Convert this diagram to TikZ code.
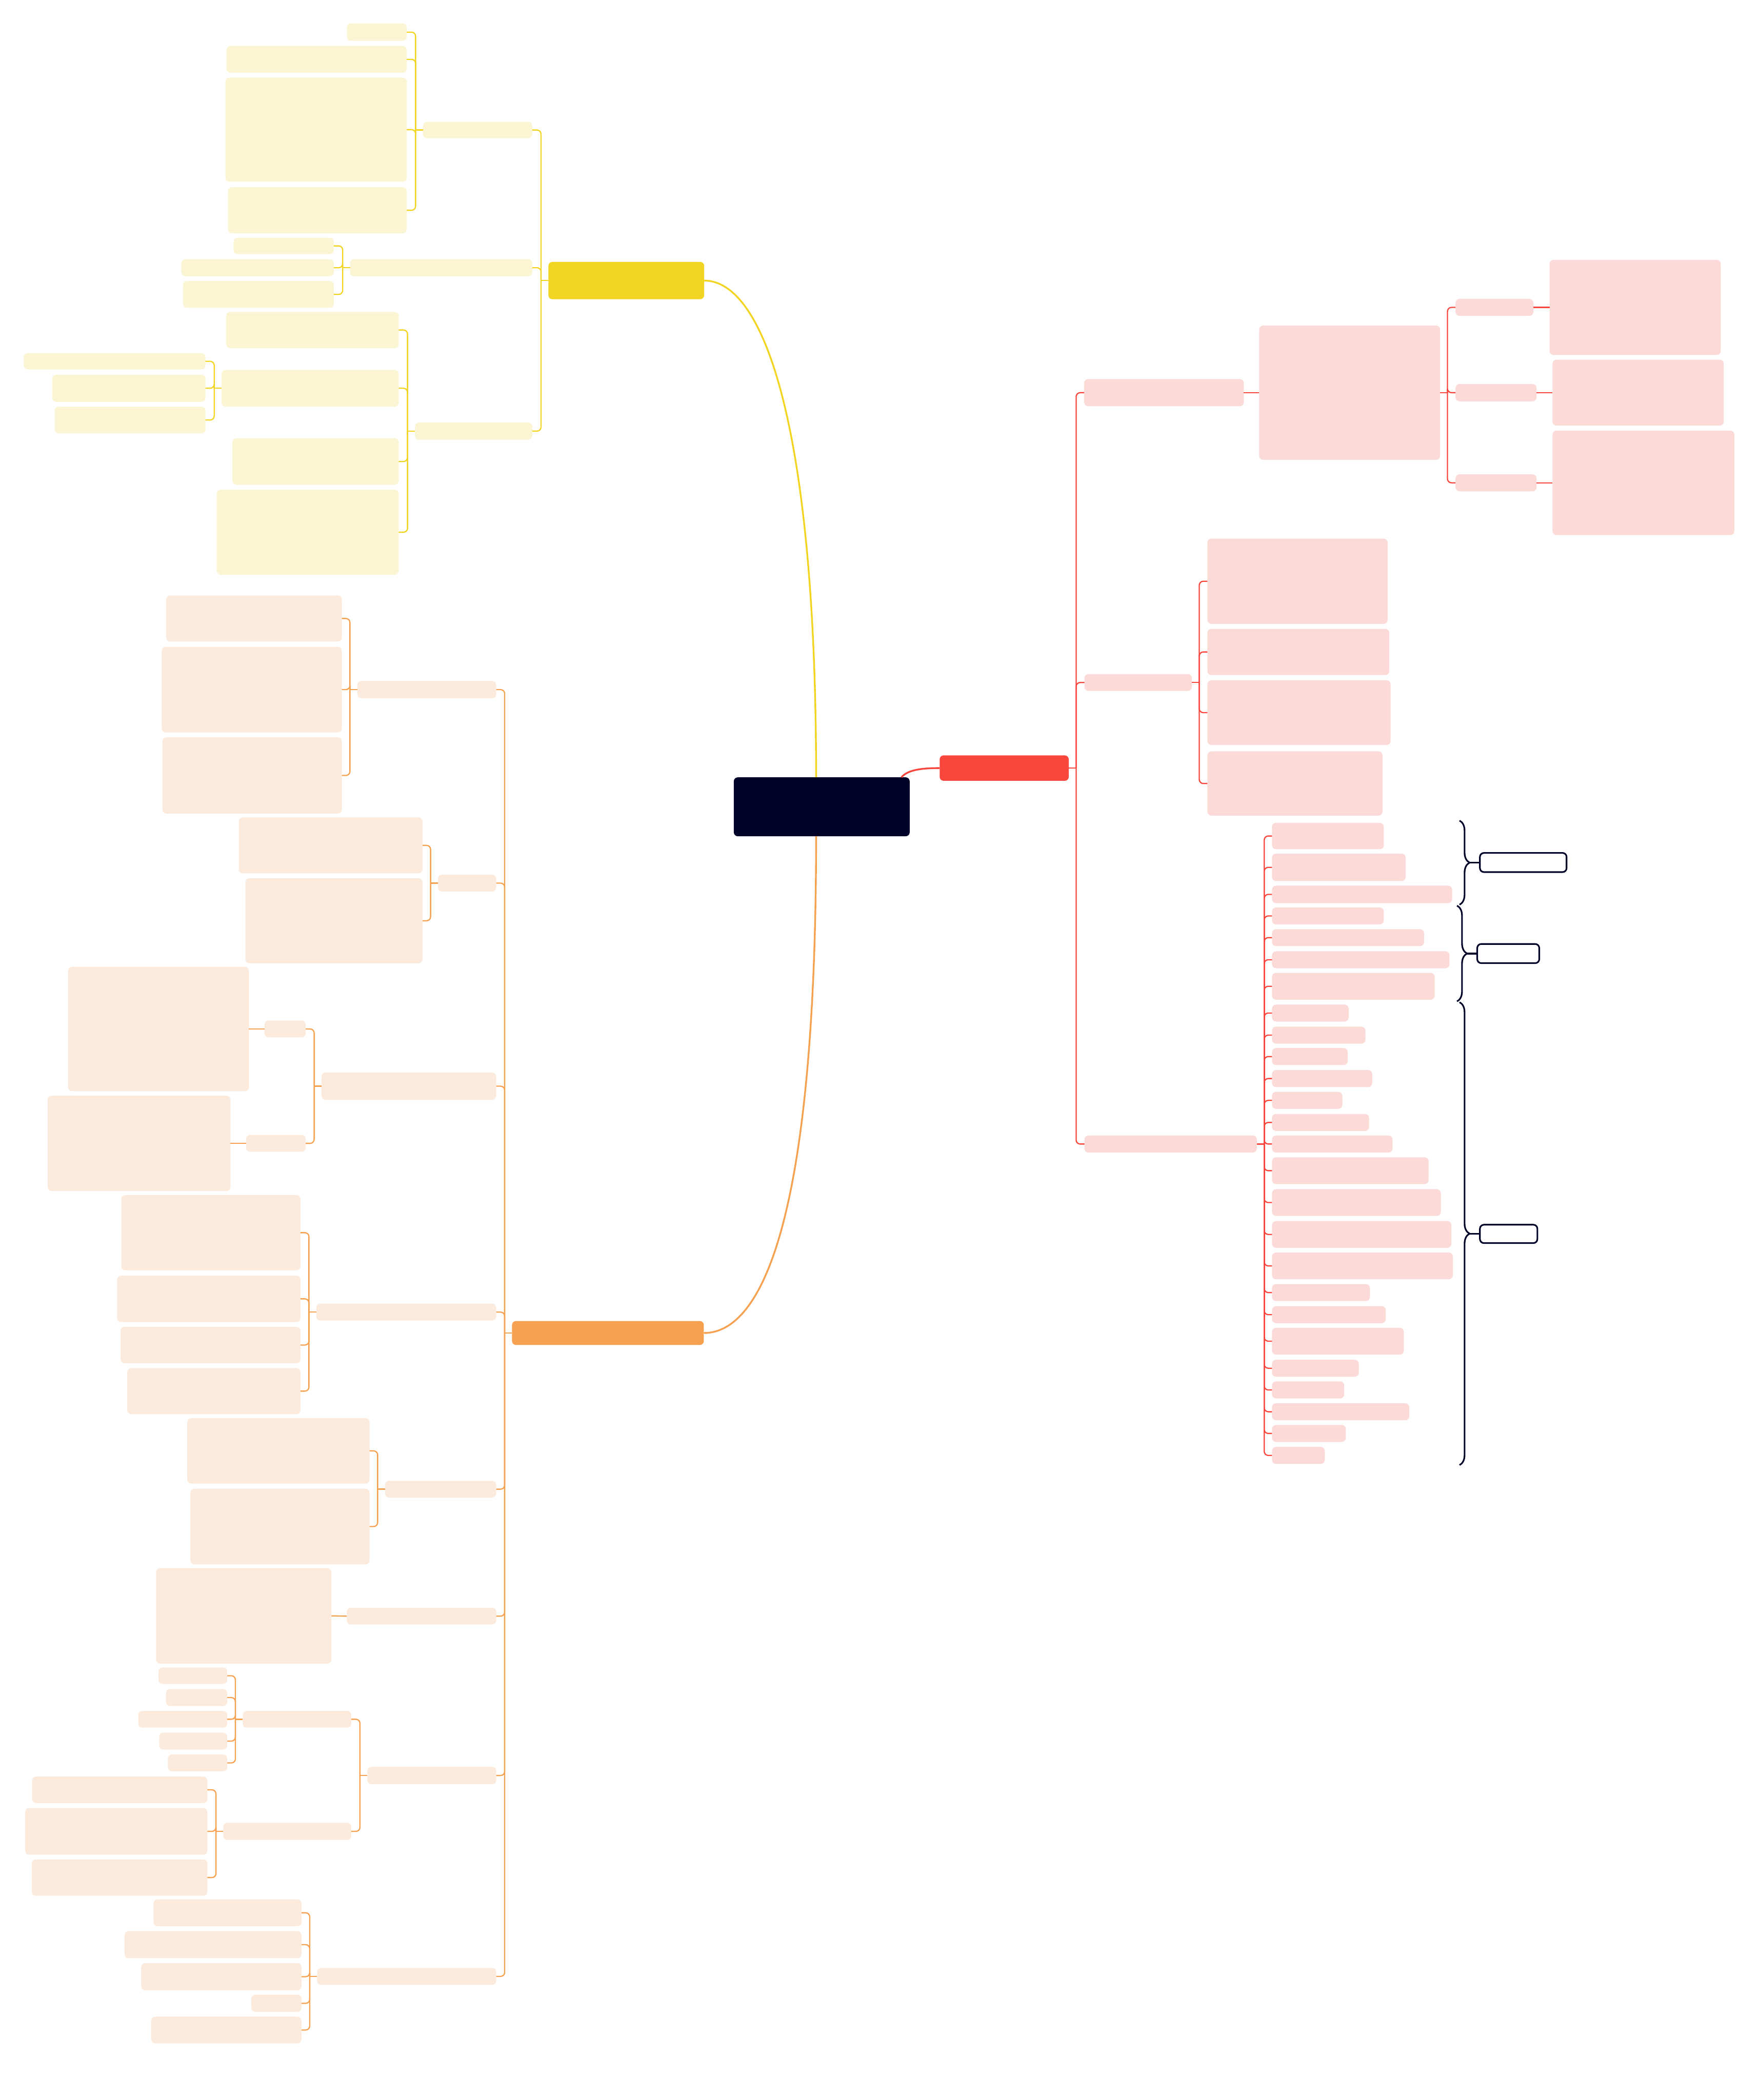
\documentclass[tikz,border=0pt]{standalone}
\usetikzlibrary{decorations.pathreplacing}
\definecolor{navy}{RGB}{0,2,40}
\definecolor{redmain}{RGB}{249,71,62}
\definecolor{redsoft}{RGB}{252,218,216}
\definecolor{yelmain}{RGB}{242,212,34}
\definecolor{yelsoft}{RGB}{251,245,211}
\definecolor{ormain}{RGB}{246,161,80}
\definecolor{orsoft}{RGB}{252,235,220}
\tikzset{
  wh/.style 2 args={minimum width=#1*0.5mm, minimum height=#2*0.5mm},
  leaf/.style={rounded corners=1.5mm, inner sep=0pt, outer sep=0pt},
  rleaf/.style={leaf, fill=redsoft, anchor=west},
  yleaf/.style={leaf, fill=yelsoft, anchor=east},
  oleaf/.style={leaf, fill=orsoft, anchor=east},
  rline/.style={draw=redmain, line width=0.45mm, rounded corners=1.5mm},
  yline/.style={draw=yelmain, line width=0.45mm, rounded corners=1.5mm},
  oline/.style={draw=ormain, line width=0.45mm, rounded corners=1.5mm},
  tag/.style={leaf, draw=navy, line width=0.6mm, fill=white, anchor=west},
  curly/.style={draw=navy, line width=0.6mm, decorate, decoration={brace, amplitude=3.75mm}},
}
\begin{document}
\begin{tikzpicture}[x=0.5mm, y=-0.5mm]
\useasboundingbox (0,0) rectangle (1313,1568);

% centre and main branches
\node[leaf, fill=navy, wh={131.3}{44}] (cen) at (613.4,602.4) {};
\node[leaf, fill=redmain, wh={96.4}{19}] (rd) at (749.6,573.5) {};
\node[leaf, fill=yelmain, wh={116.3}{27.9}] (y0) at (467.5,209.5) {};
\node[leaf, fill=ormain, wh={143.2}{17.9}] (o0) at (453.8,995.3) {};
\draw[yelmain, line width=0.65mm] (y0.east) .. controls +(45,0) and +(0,-260) .. ([xshift=-2.1mm]cen.north);
\draw[ormain, line width=0.65mm] (o0.east) .. controls +(45,0) and +(0,280) .. ([xshift=-2.1mm]cen.south);
\draw[redmain, line width=0.65mm] ([xshift=-3.1mm]cen.north east) .. controls +(5,-6) and +(-12,0) .. (rd.west);

% red side
\node[rleaf, wh={119.2}{20.3}] (r1) at (809.3,293.2) {};
\node[rleaf, wh={135.1}{100.3}] (r1d) at (939.9,293.2) {};
\node[rleaf, wh={58.1}{12.7}] (r1a) at (1086.5,229.5) {};
\node[rleaf, wh={60.5}{12.9}] (r1b) at (1086.5,293.2) {};
\node[rleaf, wh={60.5}{12.7}] (r1c) at (1086.5,360.5) {};
\node[rleaf, wh={127.8}{71}] (r1at) at (1156.7,229.5) {};
\node[rleaf, wh={127.8}{49.2}] (r1bt) at (1158.9,293.2) {};
\node[rleaf, wh={135.7}{78}] (r1ct) at (1158.9,360.5) {};
\node[rleaf, wh={80.2}{12.6}] (r2) at (809.5,509.6) {};
\node[rleaf, wh={134.5}{63.7}] (r2a) at (901.3,434) {};
\node[rleaf, wh={135.7}{34.5}] (r2b) at (901.3,486.8) {};
\node[rleaf, wh={136.7}{48.4}] (r2c) at (901.3,532.1) {};
\node[rleaf, wh={130.7}{48}] (r2d) at (901.3,585) {};
\node[rleaf, wh={128.7}{12.7}] (r3) at (809.5,854.2) {};
\node[rleaf, wh={83.5}{19.7}] (r3a) at (949.5,624.2) {};
\node[rleaf, wh={99.8}{20.4}] (r3b) at (949.5,647.6) {};
\node[rleaf, wh={134.5}{13.1}] (r3c) at (949.5,667.8) {};
\node[rleaf, wh={83.5}{12.7}] (r3d) at (949.5,683.9) {};
\node[rleaf, wh={113.5}{12.7}] (r3e) at (949.5,700.1) {};
\node[rleaf, wh={132.5}{12.7}] (r3f) at (949.5,716.6) {};
\node[rleaf, wh={121.5}{20}] (r3g) at (949.5,736.4) {};
\node[rleaf, wh={57.2}{12.7}] (r3h) at (949.5,756.4) {};
\node[rleaf, wh={69.8}{12.7}] (r3i) at (949.5,772.9) {};
\node[rleaf, wh={56.5}{12.7}] (r3j) at (949.5,788.9) {};
\node[rleaf, wh={74.8}{12.7}] (r3k) at (949.5,805.3) {};
\node[rleaf, wh={52.5}{12.7}] (r3l) at (949.5,821.6) {};
\node[rleaf, wh={72.5}{12.7}] (r3m) at (949.5,838.1) {};
\node[rleaf, wh={90}{12.7}] (r3n) at (949.5,854.2) {};
\node[rleaf, wh={116.9}{20}] (r3o) at (949.5,874.1) {};
\node[rleaf, wh={126}{20}] (r3p) at (949.5,897.9) {};
\node[rleaf, wh={133.9}{20}] (r3q) at (949.5,921.7) {};
\node[rleaf, wh={135}{20}] (r3r) at (949.5,945.2) {};
\node[rleaf, wh={73.1}{12.7}] (r3s) at (949.5,965.1) {};
\node[rleaf, wh={84.9}{12.7}] (r3t) at (949.5,981.6) {};
\node[rleaf, wh={98.4}{20}] (r3u) at (949.5,1001.4) {};
\node[rleaf, wh={64.8}{12.7}] (r3v) at (949.5,1021.6) {};
\node[rleaf, wh={53.9}{12.7}] (r3w) at (949.5,1037.8) {};
\node[rleaf, wh={102.5}{12.7}] (r3x) at (949.5,1054.1) {};
\node[rleaf, wh={55.1}{12.7}] (r3y) at (949.5,1070.3) {};
\node[rleaf, wh={39.4}{12.7}] (r3z) at (949.5,1086.7) {};

\draw[rline] (rd.east) -- ++(5.5,0);
\draw[rline] ([xshift=2.75mm]rd.east) |- (r1.west);
\draw[rline] ([xshift=2.75mm]rd.east) |- (r2.west);
\draw[rline] ([xshift=2.75mm]rd.east) |- (r3.west);
\draw[rline] (r1.east) -- (r1d.west);
\draw[rline] (r1d.east) -- ++(5.5,0);
\draw[rline] ([xshift=2.75mm]r1d.east) |- (r1a.west);
\draw[rline] ([xshift=2.75mm]r1d.east) |- (r1b.west);
\draw[rline] ([xshift=2.75mm]r1d.east) |- (r1c.west);
\draw[rline] (r1a.east) -- (r1at.west);
\draw[rline] (r1b.east) -- (r1bt.west);
\draw[rline] (r1c.east) -- (r1ct.west);
\draw[rline] (r2.east) -- ++(5.5,0);
\draw[rline] ([xshift=2.75mm]r2.east) |- (r2a.west);
\draw[rline] ([xshift=2.75mm]r2.east) |- (r2b.west);
\draw[rline] ([xshift=2.75mm]r2.east) |- (r2c.west);
\draw[rline] ([xshift=2.75mm]r2.east) |- (r2d.west);
\draw[rline] (r3.east) -- ++(5.5,0);
\draw[rline] ([xshift=2.75mm]r3.east) |- (r3a.west);
\draw[rline] ([xshift=2.75mm]r3.east) |- (r3b.west);
\draw[rline] ([xshift=2.75mm]r3.east) |- (r3c.west);
\draw[rline] ([xshift=2.75mm]r3.east) |- (r3d.west);
\draw[rline] ([xshift=2.75mm]r3.east) |- (r3e.west);
\draw[rline] ([xshift=2.75mm]r3.east) |- (r3f.west);
\draw[rline] ([xshift=2.75mm]r3.east) |- (r3g.west);
\draw[rline] ([xshift=2.75mm]r3.east) |- (r3h.west);
\draw[rline] ([xshift=2.75mm]r3.east) |- (r3i.west);
\draw[rline] ([xshift=2.75mm]r3.east) |- (r3j.west);
\draw[rline] ([xshift=2.75mm]r3.east) |- (r3k.west);
\draw[rline] ([xshift=2.75mm]r3.east) |- (r3l.west);
\draw[rline] ([xshift=2.75mm]r3.east) |- (r3m.west);
\draw[rline] ([xshift=2.75mm]r3.east) |- (r3n.west);
\draw[rline] ([xshift=2.75mm]r3.east) |- (r3o.west);
\draw[rline] ([xshift=2.75mm]r3.east) |- (r3p.west);
\draw[rline] ([xshift=2.75mm]r3.east) |- (r3q.west);
\draw[rline] ([xshift=2.75mm]r3.east) |- (r3r.west);
\draw[rline] ([xshift=2.75mm]r3.east) |- (r3s.west);
\draw[rline] ([xshift=2.75mm]r3.east) |- (r3t.west);
\draw[rline] ([xshift=2.75mm]r3.east) |- (r3u.west);
\draw[rline] ([xshift=2.75mm]r3.east) |- (r3v.west);
\draw[rline] ([xshift=2.75mm]r3.east) |- (r3w.west);
\draw[rline] ([xshift=2.75mm]r3.east) |- (r3x.west);
\draw[rline] ([xshift=2.75mm]r3.east) |- (r3y.west);
\draw[rline] ([xshift=2.75mm]r3.east) |- (r3z.west);

% summary braces
\coordinate (b1s) at (1089.5,612.7);
\coordinate (b1e) at (1089.5,675.5);
\coordinate (b2s) at (1087.6,676.2);
\coordinate (b2e) at (1087.6,747.7);
\coordinate (b3s) at (1089.5,748.3);
\coordinate (b3e) at (1089.5,1093.9);
\draw[curly] (b1s) -- (b1e);
\draw[curly] (b2s) -- (b2e);
\draw[curly] (b3s) -- (b3e);
\node[tag, wh={64.7}{14.3}] (g1) at (1104.7,644) {};
\node[tag, wh={46.3}{14.3}] (g2) at (1102.7,712) {};
\node[tag, wh={42.9}{13.7}] (g3) at (1104.7,921.3) {};
\draw[navy, line width=0.6mm] (g1.west) -- ++(-7.6,0);
\draw[navy, line width=0.6mm] (g2.west) -- ++(-7.6,0);
\draw[navy, line width=0.6mm] (g3.west) -- ++(-7.6,0);

% yellow side
\node[yleaf, wh={81.6}{12.2}] (y1) at (397.3,97.1) {};
\node[yleaf, wh={136}{12.7}] (y2) at (397.3,199.9) {};
\node[yleaf, wh={87.6}{12.8}] (y3) at (397.3,321.9) {};
\node[yleaf, wh={44.7}{13}] (y1a) at (303.6,24) {};
\node[yleaf, wh={134.5}{20}] (y1b) at (303.6,44.3) {};
\node[yleaf, wh={135.3}{77.8}] (y1c) at (303.6,96.8) {};
\node[yleaf, wh={133.5}{34.4}] (y1d) at (303.6,157) {};
\node[yleaf, wh={74.9}{12.2}] (y2a) at (249.2,183.6) {};
\node[yleaf, wh={113.9}{12.7}] (y2b) at (249.2,199.9) {};
\node[yleaf, wh={112.6}{20}] (y2c) at (249.2,219.8) {};
\node[yleaf, wh={128.8}{27.1}] (y3a) at (297.6,246.4) {};
\node[yleaf, wh={132.2}{27.4}] (y3b) at (297.6,289.9) {};
\node[yleaf, wh={124.1}{34.7}] (y3c) at (297.6,344.6) {};
\node[yleaf, wh={135.8}{63.4}] (y3d) at (297.6,397.4) {};
\node[yleaf, wh={135.6}{12.2}] (y3ba) at (153.4,269.8) {};
\node[yleaf, wh={114.4}{20.3}] (y3bb) at (153.4,289.9) {};
\node[yleaf, wh={112.6}{20}] (y3bc) at (153.4,313.6) {};

\draw[yline] (y0.west) -- ++(-5.5,0);
\draw[yline] ([xshift=-2.75mm]y0.west) |- (y1.east);
\draw[yline] ([xshift=-2.75mm]y0.west) |- (y2.east);
\draw[yline] ([xshift=-2.75mm]y0.west) |- (y3.east);
\draw[yline] (y1.west) -- ++(-5.5,0);
\draw[yline] ([xshift=-2.75mm]y1.west) |- (y1a.east);
\draw[yline] ([xshift=-2.75mm]y1.west) |- (y1b.east);
\draw[yline] ([xshift=-2.75mm]y1.west) |- (y1c.east);
\draw[yline] ([xshift=-2.75mm]y1.west) |- (y1d.east);
\draw[yline] (y2.west) -- ++(-5.5,0);
\draw[yline] ([xshift=-2.75mm]y2.west) |- (y2a.east);
\draw[yline] ([xshift=-2.75mm]y2.west) |- (y2b.east);
\draw[yline] ([xshift=-2.75mm]y2.west) |- (y2c.east);
\draw[yline] (y3.west) -- ++(-5.5,0);
\draw[yline] ([xshift=-2.75mm]y3.west) |- (y3a.east);
\draw[yline] ([xshift=-2.75mm]y3.west) |- (y3b.east);
\draw[yline] ([xshift=-2.75mm]y3.west) |- (y3c.east);
\draw[yline] ([xshift=-2.75mm]y3.west) |- (y3d.east);
\draw[yline] (y3b.west) -- ++(-5.5,0);
\draw[yline] ([xshift=-2.75mm]y3b.west) |- (y3ba.east);
\draw[yline] ([xshift=-2.75mm]y3b.west) |- (y3bb.east);
\draw[yline] ([xshift=-2.75mm]y3b.west) |- (y3bc.east);

% orange side
\node[oleaf, wh={103.7}{12.9}] (o1) at (370.4,514.9) {};
\node[oleaf, wh={43.5}{12.6}] (o2) at (370.4,659.4) {};
\node[oleaf, wh={130.4}{20.3}] (o3) at (370.4,811) {};
\node[oleaf, wh={134.3}{12.6}] (o4) at (370.4,979.7) {};
\node[oleaf, wh={83}{12.5}] (o5) at (370.4,1111.9) {};
\node[oleaf, wh={111.5}{12.6}] (o6) at (370.4,1206.7) {};
\node[oleaf, wh={96.2}{13}] (o7) at (370.4,1325.7) {};
\node[oleaf, wh={133.7}{12.6}] (o8) at (370.4,1475.7) {};
\node[oleaf, wh={131.1}{34.5}] (o1a) at (255.2,461.8) {};
\node[oleaf, wh={134.5}{63.9}] (o1b) at (255.2,514.9) {};
\node[oleaf, wh={134}{56.9}] (o1c) at (255.2,579) {};
\node[oleaf, wh={137.2}{41.8}] (o2a) at (315.4,631.2) {};
\node[oleaf, wh={132.2}{63.5}] (o2b) at (315.4,687.5) {};
\node[oleaf, wh={30.8}{12.6}] (o3a) at (228.2,768.3) {};
\node[oleaf, wh={135}{92.9}] (o3at) at (185.8,768.3) {};
\node[oleaf, wh={44.5}{12.6}] (o3b) at (228.2,853.7) {};
\node[oleaf, wh={136.4}{71.2}] (o3bt) at (172,853.7) {};
\node[oleaf, wh={133.7}{56.2}] (o4a) at (224.3,920.4) {};
\node[oleaf, wh={136.9}{34.7}] (o4b) at (224.3,969.8) {};
\node[oleaf, wh={134.3}{27.2}] (o4c) at (224.3,1004.3) {};
\node[oleaf, wh={129.3}{34.4}] (o4d) at (224.3,1038.7) {};
\node[oleaf, wh={136.1}{48.8}] (o5a) at (275.9,1083.3) {};
\node[oleaf, wh={133.8}{56.5}] (o5b) at (275.9,1139.8) {};
\node[oleaf, wh={130.9}{71.3}] (o6a) at (247.4,1206.5) {};
\node[oleaf, wh={81}{12.5}] (o7a) at (262.2,1283.7) {};
\node[oleaf, wh={95.5}{12.8}] (o7b) at (262.2,1367.4) {};
\node[oleaf, wh={51.3}{12.3}] (o7a1) at (169.6,1251.2) {};
\node[oleaf, wh={45.7}{12.7}] (o7a2) at (169.6,1267.5) {};
\node[oleaf, wh={66.4}{12.5}] (o7a3) at (169.6,1283.7) {};
\node[oleaf, wh={50.8}{12.6}] (o7a4) at (169.6,1300) {};
\node[oleaf, wh={44.3}{12.6}] (o7a5) at (169.6,1316.3) {};
\node[oleaf, wh={130.8}{19.8}] (o7b1) at (154.8,1336.4) {};
\node[oleaf, wh={136}{34.8}] (o7b2) at (154.8,1367.4) {};
\node[oleaf, wh={131}{27.1}] (o7b3) at (154.8,1401.9) {};
\node[oleaf, wh={110.4}{20.1}] (o8a) at (225,1428.2) {};
\node[oleaf, wh={132}{20.2}] (o8b) at (225,1452) {};
\node[oleaf, wh={119.6}{20.4}] (o8c) at (225,1475.9) {};
\node[oleaf, wh={37.4}{12.8}] (o8d) at (225,1495.8) {};
\node[oleaf, wh={112.1}{20}] (o8e) at (225,1515.7) {};

\draw[oline] (o0.west) -- ++(-5.5,0);
\draw[oline] ([xshift=-2.75mm]o0.west) |- (o1.east);
\draw[oline] ([xshift=-2.75mm]o0.west) |- (o2.east);
\draw[oline] ([xshift=-2.75mm]o0.west) |- (o3.east);
\draw[oline] ([xshift=-2.75mm]o0.west) |- (o4.east);
\draw[oline] ([xshift=-2.75mm]o0.west) |- (o5.east);
\draw[oline] ([xshift=-2.75mm]o0.west) |- (o6.east);
\draw[oline] ([xshift=-2.75mm]o0.west) |- (o7.east);
\draw[oline] ([xshift=-2.75mm]o0.west) |- (o8.east);
\draw[oline] (o1.west) -- ++(-5.5,0);
\draw[oline] ([xshift=-2.75mm]o1.west) |- (o1a.east);
\draw[oline] ([xshift=-2.75mm]o1.west) |- (o1b.east);
\draw[oline] ([xshift=-2.75mm]o1.west) |- (o1c.east);
\draw[oline] (o2.west) -- ++(-5.5,0);
\draw[oline] ([xshift=-2.75mm]o2.west) |- (o2a.east);
\draw[oline] ([xshift=-2.75mm]o2.west) |- (o2b.east);
\draw[oline] (o3.west) -- ++(-5.5,0);
\draw[oline] ([xshift=-2.75mm]o3.west) |- (o3a.east);
\draw[oline] ([xshift=-2.75mm]o3.west) |- (o3b.east);
\draw[oline] (o3a.west) -- (o3at.east);
\draw[oline] (o3b.west) -- (o3bt.east);
\draw[oline] (o4.west) -- ++(-5.5,0);
\draw[oline] ([xshift=-2.75mm]o4.west) |- (o4a.east);
\draw[oline] ([xshift=-2.75mm]o4.west) |- (o4b.east);
\draw[oline] ([xshift=-2.75mm]o4.west) |- (o4c.east);
\draw[oline] ([xshift=-2.75mm]o4.west) |- (o4d.east);
\draw[oline] (o5.west) -- ++(-5.5,0);
\draw[oline] ([xshift=-2.75mm]o5.west) |- (o5a.east);
\draw[oline] ([xshift=-2.75mm]o5.west) |- (o5b.east);
\draw[oline] (o6.west) -- (o6a.east);
\draw[oline] (o7.west) -- ++(-5.5,0);
\draw[oline] ([xshift=-2.75mm]o7.west) |- (o7a.east);
\draw[oline] ([xshift=-2.75mm]o7.west) |- (o7b.east);
\draw[oline] (o7a.west) -- ++(-5.5,0);
\draw[oline] ([xshift=-2.75mm]o7a.west) |- (o7a1.east);
\draw[oline] ([xshift=-2.75mm]o7a.west) |- (o7a2.east);
\draw[oline] ([xshift=-2.75mm]o7a.west) |- (o7a3.east);
\draw[oline] ([xshift=-2.75mm]o7a.west) |- (o7a4.east);
\draw[oline] ([xshift=-2.75mm]o7a.west) |- (o7a5.east);
\draw[oline] (o7b.west) -- ++(-5.5,0);
\draw[oline] ([xshift=-2.75mm]o7b.west) |- (o7b1.east);
\draw[oline] ([xshift=-2.75mm]o7b.west) |- (o7b2.east);
\draw[oline] ([xshift=-2.75mm]o7b.west) |- (o7b3.east);
\draw[oline] (o8.west) -- ++(-5.5,0);
\draw[oline] ([xshift=-2.75mm]o8.west) |- (o8a.east);
\draw[oline] ([xshift=-2.75mm]o8.west) |- (o8b.east);
\draw[oline] ([xshift=-2.75mm]o8.west) |- (o8c.east);
\draw[oline] ([xshift=-2.75mm]o8.west) |- (o8d.east);
\draw[oline] ([xshift=-2.75mm]o8.west) |- (o8e.east);
\end{tikzpicture}
\end{document}
